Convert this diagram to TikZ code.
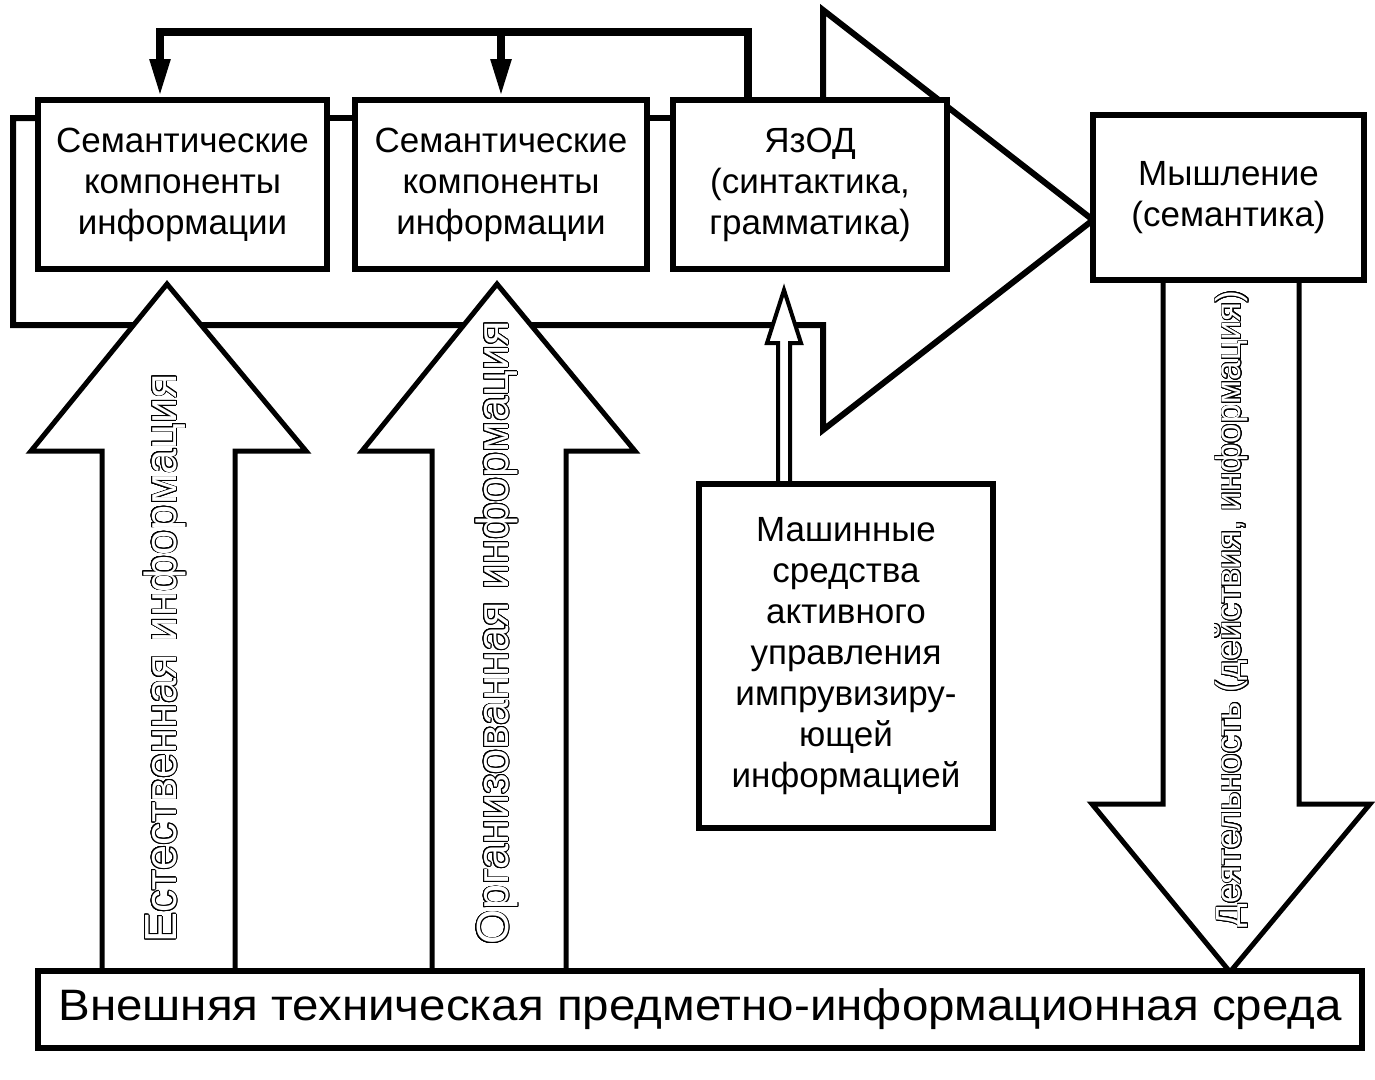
\documentclass[tikz,border=0pt]{standalone}
\usepackage{fontspec}
\setmainfont{Liberation Sans}
\usepackage{graphicx}
\usepackage{contour}
\contourlength{0.9pt}
\contournumber{24}
\usetikzlibrary{arrows.meta,calc}
\pgfdeclarelayer{bg}
\pgfdeclarelayer{mid}
\pgfsetlayers{bg,mid,main}
\begin{document}
\begin{tikzpicture}[x=1pt,y=-1pt,
  blk/.style={draw, line width=6pt, fill=white, align=center, inner sep=0pt,
    font=\fontsize{35}{41}\selectfont},
  lp/.style={line width=6pt, line join=miter},
  fb/.style={line width=8pt, line join=miter},
  harrow/.style={draw, line width=5pt, fill=white, line join=miter},
  otext/.style={inner sep=0pt, font=\fontsize{45}{50}\selectfont}]
\useasboundingbox (0,0) rectangle (1375,1079);

\coordinate (L0) at (13,118);
\coordinate (L1) at (13,325);
\coordinate (T0) at (823,325);
\coordinate (T1) at (823,430);
\coordinate (Tip) at (1093,220);
\coordinate (T2) at (823,10);
\coordinate (F0) at (748,32);
\coordinate (F1) at (160,32);

\node[blk, minimum width=289pt, minimum height=169pt] (b1) at (182.5,184.5)
  {Семантические\\компоненты\\информации};
\node[blk, minimum width=292pt, minimum height=169pt] (b2) at (501,184.5)
  {Семантические\\компоненты\\информации};
\node[blk, minimum width=274pt, minimum height=169pt] (b3) at (810,184.5)
  {ЯзОД\\(синтактика,\\грамматика)};
\node[blk, minimum width=271pt, minimum height=165pt] (b4) at (1228.5,197.5)
  {Мышление\\(семантика)};
\node[blk, minimum width=294pt, minimum height=344pt] (b5) at (846,656)
  {Машинные\\средства\\активного\\управления\\импрувизиру-\\ющей\\информацией};
\node[blk, minimum width=1324pt, minimum height=77pt, font=\fontsize{44}{50}\selectfont]
  (b6) at (700,1009) {\scalebox{1.08}[1]{Внешняя техническая предметно-информационная среда}};

\begin{pgfonlayer}{bg}
\draw[lp] (b1.west |- L0) -- (L0) -- (L1) -- (T0) -- (T1) -- (Tip) -- (T2) -- (b3.north -| T2);
\draw[lp] (b1.east |- L0) -- (b2.west |- L0);
\draw[lp] (b2.east |- L0) -- (b3.west |- L0);
\end{pgfonlayer}

\draw[fb, -{Triangle[length=38pt,width=19pt]}] (b3.north -| F0) -- (F0) -- (F1) -- (b1.north -| F1);
\draw[fb, -{Triangle[length=38pt,width=19pt]}] (b2.north |- F0) -- (b2.north);

\begin{pgfonlayer}{mid}
\draw[harrow] (102,973) -- (102,451) -- (31,451) -- (167,284) -- (306,451) -- (235,451) -- (235,973);
\draw[harrow] (432,973) -- (432,451) -- (362,451) -- (497,284) -- (635,451) -- (566,451) -- (566,973);
\draw[harrow] (1163,280) -- (1163,804) -- (1092,804) -- (1230,972) -- (1370,804) -- (1299,804) -- (1299,280);
\draw[line width=4pt, fill=white, line join=miter] (778,484) -- (778,343) -- (767,343) -- (784,290) -- (801,343) -- (790,343) -- (790,484);
\node[otext, rotate=90] (t1) at (165,658) {\contour{black}{\textcolor{white}{Естественная информация}}};
\node[otext, rotate=90] (t2) at (497,633) {\contour{black}{\textcolor{white}{Организованная информация}}};
\node[otext, rotate=90, font=\fontsize{35}{40}\selectfont] (t3) at (1232,609) {\contour{black}{\textcolor{white}{Деятельность (действия, информация)}}};
\end{pgfonlayer}
\end{tikzpicture}
\end{document}
